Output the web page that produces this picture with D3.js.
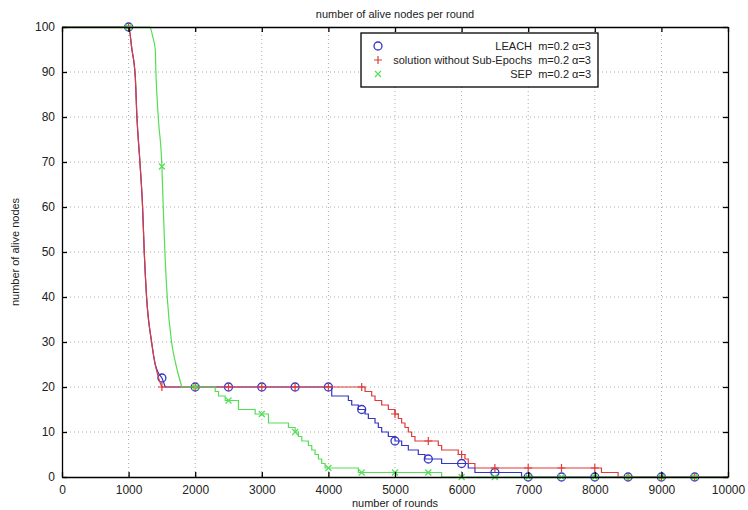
<!DOCTYPE html>
<html><head><meta charset="utf-8">
<script src="https://cdn.jsdelivr.net/npm/d3@7"></script>
<style>
body{margin:0;background:#fff;}
svg{display:block;font-family:"Liberation Sans",Arial,sans-serif;}
</style></head>
<body><svg id="c" width="748" height="510"></svg>
<script>
const xTicks=[0,1000,2000,3000,4000,5000,6000,7000,8000,9000,10000];
const yTicks=[0,10,20,30,40,50,60,70,80,90,100];
const markerRounds=[1000,1500,2000,2500,3000,3500,4000,4500,5000,5500,6000,6500,7000,7500,8000,8500,9000,9500];

// rounds at which the smooth die-off ends and the stepwise phase starts
const smoothEnd=[1550,1500,1800];

const leachRounds=[0,1000,1050,1100,1125,1170,1210,1235,1270,1345,1400,1450,1500,1550,4000,4050,4300,4350,4450,4550,4600,4700,4750,4800,4900,5000,5100,5200,5350,5450,5700,6100,6200,6900,10000];
const leachAlive=[100,100,95,89,80,70,60,50,40,30,25,23,22,20,20,18,17,16,15,14,13,12,11,10,9,8,7,6,5,4,3,2,1,0,0];

const noSubRounds=[0,1000,1050,1100,1125,1170,1210,1235,1270,1345,1400,1450,1500,4500,4550,4650,4700,4800,4900,5000,5050,5100,5150,5200,5250,5300,5650,5700,5950,6050,6100,6200,8100,8350,10000];
const noSubAlive=[100,100,95,89,80,70,60,50,40,30,25,22,20,20,19,18,17,16,15,14,13,12,11,10,9,8,7,6,5,4,3,2,1,0,0];

const sepRounds=[0,1320,1360,1400,1410,1445,1500,1520,1545,1580,1645,1710,1800,2300,2350,2450,2650,2900,3100,3400,3500,3550,3600,3700,3750,3800,3850,3900,3950,4450,5700,10000];
const sepAlive=[100,100,98,95,90,80,69,60,50,40,30,25,20,19,18,17,15,14,12,11,10,9,8,7,6,5,4,3,2,1,0,0];

const seriesNames=["LEACH  m=0.2 \u03b1=3","solution without Sub-Epochs  m=0.2 \u03b1=3","SEP  m=0.2 \u03b1=3"];
const seriesColors=["#3535c8","#e03a3a","#55dd55"];
const seriesMarkers=["circle","plus","cross"];

const series=[
  {r:leachRounds,v:leachAlive},
  {r:noSubRounds,v:noSubAlive},
  {r:sepRounds,v:sepAlive}
].map((s,i)=>({name:seriesNames[i],color:seriesColors[i],marker:seriesMarkers[i],end:smoothEnd[i],
  pts:s.r.map((r,j)=>({r:r,v:s.v[j]}))}));

const L=62,R=728,T=27,B=477;
const svg=d3.select("#c");
const x=d3.scaleLinear().domain([0,10000]).range([L,R]);
const y=d3.scaleLinear().domain([0,100]).range([B,T]);

// grid
const grid=svg.append("g");
grid.selectAll("line.gx").data(xTicks.slice(1,-1)).join("line")
 .attr("x1",d=>x(d)).attr("x2",d=>x(d)).attr("y1",T).attr("y2",B)
 .attr("stroke","#aaa").attr("stroke-width",1).attr("stroke-dasharray","1,3");
grid.selectAll("line.gy").data(yTicks.slice(1,-1)).join("line")
 .attr("y1",d=>y(d)).attr("y2",d=>y(d)).attr("x1",L).attr("x2",R)
 .attr("stroke","#aaa").attr("stroke-width",1).attr("stroke-dasharray","1,3");

// lines
const lineSmooth=d3.line().x(d=>x(d.r)).y(d=>y(d.v)).curve(d3.curveMonotoneX);
const lineStep=d3.line().x(d=>x(d.r)).y(d=>y(d.v)).curve(d3.curveStepAfter);
function valAt(s,m){let v=s.pts[0].v;for(const p of s.pts){if(p.r<=m)v=p.v;}return v;}
function drawMarker(g,type,cx,cy,color){
  if(type==="circle"){
    g.append("circle").attr("cx",cx).attr("cy",cy).attr("r",4).attr("fill","none").attr("stroke",color).attr("stroke-width",1.3);
  } else if(type==="plus"){
    g.append("path").attr("d",`M${cx-4},${cy}H${cx+4}M${cx},${cy-4}V${cy+4}`).attr("stroke",color).attr("stroke-width",1.2);
  } else {
    g.append("path").attr("d",`M${cx-3},${cy-3}L${cx+3},${cy+3}M${cx-3},${cy+3}L${cx+3},${cy-3}`).attr("stroke",color).attr("stroke-width",1.2);
  }
}
const plot=svg.append("g");
series.forEach(s=>{
  const a=s.pts.filter(p=>p.r<=s.end), b=s.pts.filter(p=>p.r>=s.end);
  plot.append("path").datum(a).attr("d",lineSmooth).attr("fill","none")
   .attr("stroke",s.color).attr("stroke-width",1.2);
  plot.append("path").datum(b).attr("d",lineStep).attr("fill","none")
   .attr("stroke",s.color).attr("stroke-width",1.2);
  const mg=plot.append("g");
  markerRounds.forEach(m=>drawMarker(mg,s.marker,x(m),y(valAt(s,m)),s.color));
});

// axes
const axB=d3.axisBottom(x).tickValues(xTicks).tickFormat(d3.format("d")).tickSizeInner(-5).tickSizeOuter(0).tickPadding(8);
const axL=d3.axisLeft(y).tickValues(yTicks).tickFormat(d3.format("d")).tickSizeInner(-5).tickSizeOuter(0).tickPadding(7);
const axT=d3.axisTop(x).tickValues(xTicks).tickFormat("").tickSizeInner(-5).tickSizeOuter(0);
const axR=d3.axisRight(y).tickValues(yTicks).tickFormat("").tickSizeInner(-5).tickSizeOuter(0);
function styleAx(g){g.selectAll("path,line").attr("stroke","#000").attr("stroke-width",1.3);
  g.selectAll("text").attr("fill","#222").style("font-size","12px");}
svg.append("g").attr("transform",`translate(0,${B})`).call(axB).call(styleAx);
svg.append("g").attr("transform",`translate(${L},0)`).call(axL).call(styleAx);
svg.append("g").attr("transform",`translate(0,${T})`).call(axT).call(styleAx);
svg.append("g").attr("transform",`translate(${R},0)`).call(axR).call(styleAx);

// titles
svg.append("text").attr("x",395).attr("y",18).attr("text-anchor","middle").style("font-size","11px").attr("fill","#222").text("number of alive nodes per round");
svg.append("text").attr("x",395).attr("y",507).attr("text-anchor","middle").style("font-size","11px").attr("fill","#222").text("number of rounds");
svg.append("text").attr("transform","translate(19,252) rotate(-90)").attr("text-anchor","middle").style("font-size","11px").attr("fill","#222").text("number of alive nodes");

// legend
const lg=svg.append("g");
lg.append("rect").attr("x",361).attr("y",33).attr("width",237).attr("height",54).attr("fill","#fff").attr("stroke","#000").attr("stroke-width",1.3);
series.forEach((s,i)=>{
  const yy=46+i*14;
  drawMarker(lg,s.marker,378,yy,s.color);
  lg.append("text").attr("x",591).attr("y",yy+4).attr("text-anchor","end").style("font-size","11px").style("white-space","pre").attr("fill","#222").text(s.name);
});
</script></body></html>
